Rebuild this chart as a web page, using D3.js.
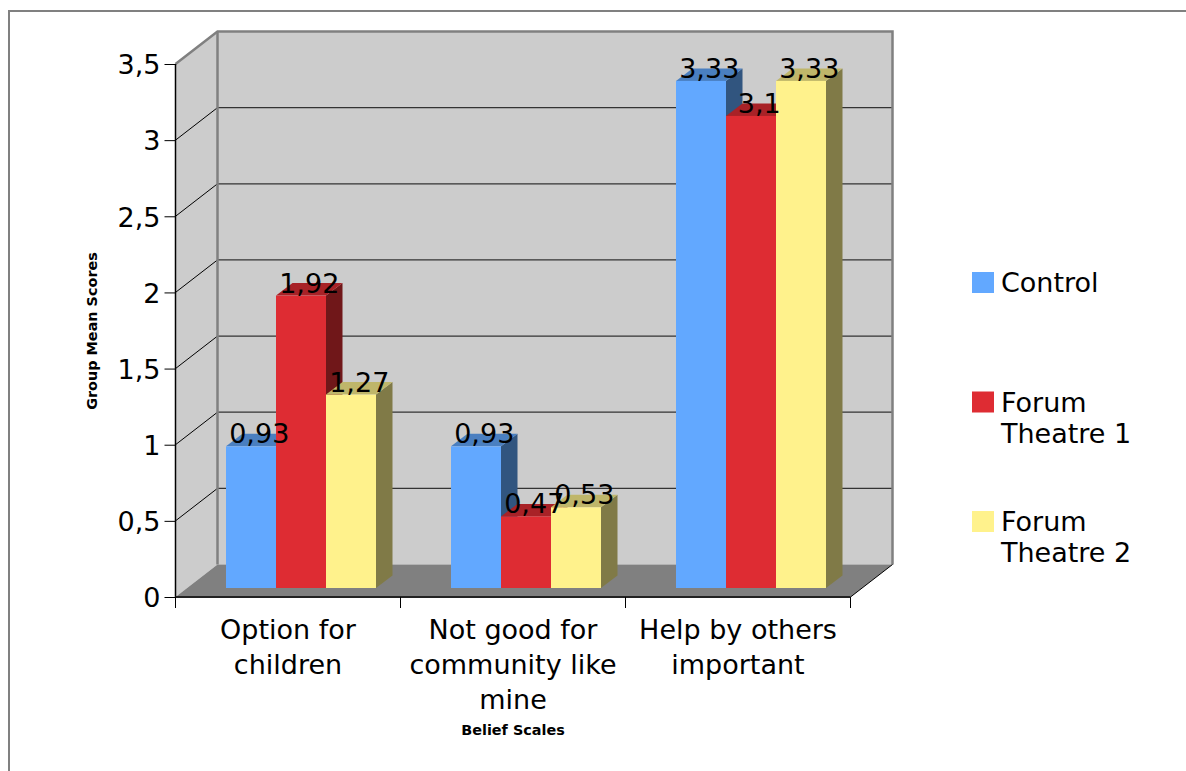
<!DOCTYPE html>
<html>
<head>
<meta charset="utf-8">
<script src="https://cdn.jsdelivr.net/npm/d3@7"></script>
<style>
  html, body { margin: 0; padding: 0; background: #fff; }
  svg { display: block; }
  text { font-family: "DejaVu Sans", Verdana, sans-serif; fill: #000; }
</style>
</head>
<body>
<svg id="chart" width="1186" height="771"></svg>
<script>
// Belief scale means per group
const categories = ["Option for children", "Not good for community like mine", "Help by others important"];
const categoryLines = [["Option for", "children"], ["Not good for", "community like", "mine"], ["Help by others", "important"]];
const seriesNames = ["Control", "Forum Theatre 1", "Forum Theatre 2"];
const legendLines = [["Control"], ["Forum", "Theatre 1"], ["Forum", "Theatre 2"]];
const controlValues = [0.93, 0.93, 3.33];
const forum1Values = [1.92, 0.47, 3.1];
const forum2Values = [1.27, 0.53, 3.33];
const yTicks = [0, 0.5, 1, 1.5, 2, 2.5, 3, 3.5];
const frontColors = ["#62a8ff", "#de2c33", "#fff28c"];
const topColors = ["#4a7fc0", "#a82227", "#bfb66a"];
const sideColors = ["#31557f", "#701719", "#807a47"];

const seriesValues = [controlValues, forum1Values, forum2Values];
const svg = d3.select("#chart");

// Plot box: front plane of the axes, plus the receding depth of the walls
const box = { left: 175.5, right: 850.5, top: 64, bottom: 597 };
const wallDepth = { x: 42, y: -32.5 };
const barShift = { x: 13, y: -9 };   // bars stand slightly inside the floor
const barDepth = { x: 16.5, y: -12.5 };

const x = d3.scaleBand().domain(categories).range([box.left, box.right])
  .paddingInner(1 / 3).paddingOuter(1 / 6);
const xOuter = d3.scaleBand().domain(categories).range([box.left, box.right]);
const xSeries = d3.scaleBand().domain(seriesNames).range([0, x.bandwidth()]);
const y = d3.scaleLinear().domain([0, 3.5]).range([box.bottom, box.top]);
const decimal = v => String(v).replace(".", ",");
const pts = a => a.map(p => p.join(",")).join(" ");

// Outer frame, open on the right and bottom
svg.append("path").attr("d", "M9,771V11H1186").attr("fill", "none")
  .attr("stroke", "#808080").attr("stroke-width", 2);

// Walls and floor
const wx = wallDepth.x, wy = wallDepth.y;
svg.append("polygon").attr("fill", "#cccccc")
  .attr("points", pts([[box.left + wx, box.top + wy], [box.right + wx, box.top + wy], [box.right + wx, box.bottom + wy], [box.left + wx, box.bottom + wy]]));
svg.append("polygon").attr("fill", "#cccccc")
  .attr("points", pts([[box.left, box.top], [box.left + wx, box.top + wy], [box.left + wx, box.bottom + wy], [box.left, box.bottom]]));
svg.append("polygon").attr("fill", "#808080")
  .attr("points", pts([[box.left, box.bottom], [box.left + wx, box.bottom + wy], [box.right + wx, box.bottom + wy], [box.right, box.bottom]]));

// Gridlines along the back wall and diagonally across the side wall
const gridTicks = yTicks.filter(t => t > 0 && t < 3.5);
svg.append("g").selectAll("line").data(gridTicks).join("line")
  .attr("x1", box.left + wx).attr("x2", box.right + wx)
  .attr("y1", d => y(d) + wy).attr("y2", d => y(d) + wy)
  .attr("stroke", "#333").attr("stroke-width", 1.3);
svg.append("g").selectAll("line").data(gridTicks).join("line")
  .attr("x1", box.left).attr("x2", box.left + wx)
  .attr("y1", d => y(d)).attr("y2", d => y(d) + wy)
  .attr("stroke", "#000").attr("stroke-width", 1);

// Wall outlines
svg.append("path").attr("fill", "none").attr("stroke", "#808080").attr("stroke-width", 2.5)
  .attr("d", `M${box.left},${box.top}L${box.left + wx},${box.top + wy}H${box.right + wx}V${box.bottom + wy}`);
svg.append("path").attr("fill", "none").attr("stroke", "#808080").attr("stroke-width", 2.5)
  .attr("d", `M${box.left + wx},${box.top + wy}V${box.bottom + wy}`);
svg.append("line").attr("stroke", "#000").attr("stroke-width", 1)
  .attr("x1", box.right).attr("y1", box.bottom).attr("x2", box.right + wx).attr("y2", box.bottom + wy);

// Bars: each with side, top and front faces
const barRows = categories.flatMap((c, ci) => seriesNames.map((s, si) => ({ c, s, si, v: seriesValues[si][ci] })));
const barBase = y(0) + barShift.y;
const barLeft = d => x(d.c) + xSeries(d.s) + barShift.x;
const barTop = d => y(d.v) + barShift.y;
const w = xSeries.bandwidth();
const bar = svg.append("g").selectAll("g").data(barRows).join("g");
bar.append("polygon").attr("fill", d => sideColors[d.si]).attr("points", d => {
  const r = barLeft(d) + w, t = barTop(d);
  return pts([[r, t], [r + barDepth.x, t + barDepth.y], [r + barDepth.x, barBase + barDepth.y], [r, barBase]]);
});
bar.append("polygon").attr("fill", d => topColors[d.si]).attr("points", d => {
  const l = barLeft(d), t = barTop(d);
  return pts([[l, t], [l + barDepth.x, t + barDepth.y], [l + w + barDepth.x, t + barDepth.y], [l + w, t]]);
});
bar.append("rect").attr("fill", d => frontColors[d.si])
  .attr("x", barLeft).attr("y", barTop).attr("width", w).attr("height", d => barBase - barTop(d));

// Axes
const yAxis = d3.axisLeft(y).tickValues(yTicks).tickFormat(decimal).tickSize(11).tickPadding(4);
const yG = svg.append("g").attr("transform", `translate(${box.left},0)`).call(yAxis);
yG.selectAll("text").style("font-size", "27px").attr("dy", "0.36em");
yG.selectAll("line").attr("stroke", "#000");
yG.select(".domain").attr("stroke", "#000").attr("stroke-width", 1.5).attr("d", `M0,${box.top}V${box.bottom}`);

const xAxis = d3.axisBottom(xOuter).tickSize(11).tickFormat("");
const xG = svg.append("g").attr("transform", `translate(0,${box.bottom})`).call(xAxis);
xG.select(".domain").attr("stroke", "#222").attr("stroke-width", 2).attr("d", `M${box.left},0H${box.right}`);
xG.selectAll(".tick").remove();
svg.append("g").selectAll("line").data([...categories.map(c => xOuter(c)), box.right]).join("line")
  .attr("x1", d => d).attr("x2", d => d).attr("y1", box.bottom).attr("y2", box.bottom + 11)
  .attr("stroke", "#000");

// Multi-line category labels
svg.append("g").selectAll("text").data(categories).join("text")
  .attr("text-anchor", "middle").style("font-size", "27px")
  .each(function (c, i) {
    d3.select(this).selectAll("tspan").data(categoryLines[i]).join("tspan")
      .attr("x", xOuter(c) + xOuter.bandwidth() / 2)
      .attr("y", (l, j) => 639 + j * 35)
      .text(l => l);
  });

// Value labels sit over the bar tops
svg.append("g").selectAll("text").data(barRows).join("text")
  .attr("text-anchor", "middle").style("font-size", "27px")
  .attr("x", d => barLeft(d) + w / 2 + barDepth.x / 2)
  .attr("y", d => barTop(d) - 3)
  .text(d => decimal(d.v));

// Axis titles
svg.append("text").attr("text-anchor", "middle").style("font-size", "14.4px").style("font-weight", "bold")
  .attr("x", 513).attr("y", 735).text("Belief Scales");
svg.append("text").attr("text-anchor", "middle").style("font-size", "14.4px").style("font-weight", "bold")
  .attr("transform", "translate(97,331) rotate(-90)").text("Group Mean Scores");

// Legend
const legendY = d3.scalePoint().domain(seriesNames).range([272, 511]);
const legend = svg.append("g").selectAll("g").data(seriesNames).join("g")
  .attr("transform", d => `translate(972,${legendY(d)})`);
legend.append("rect").attr("width", 22).attr("height", 21).attr("fill", (d, i) => frontColors[i]);
legend.append("text").style("font-size", "27px").each(function (d, i) {
  d3.select(this).selectAll("tspan").data(legendLines[i]).join("tspan")
    .attr("x", 29).attr("y", (l, j) => 20 + j * 31).text(l => l);
});
</script>
</body>
</html>
